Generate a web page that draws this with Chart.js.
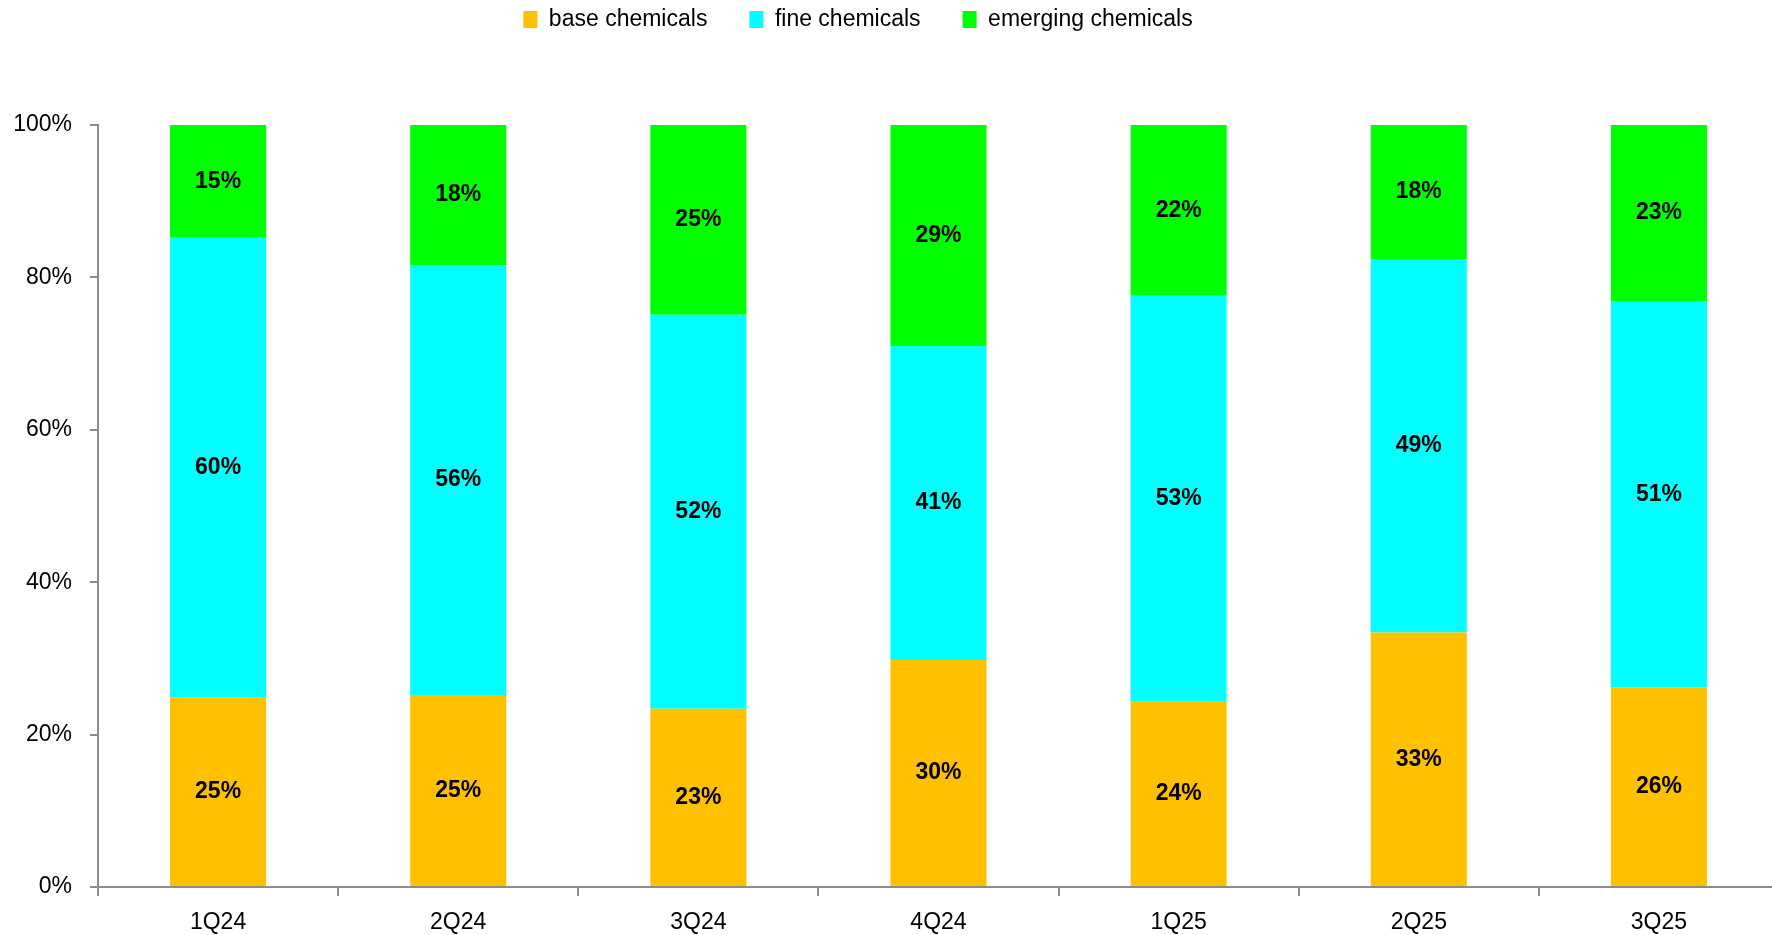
<!DOCTYPE html>
<html>
<head>
<meta charset="utf-8">
<title>Chemicals mix by quarter</title>
<script src="https://cdn.jsdelivr.net/npm/chart.js@4.4.1/dist/chart.umd.min.js"></script>
<style>
    html, body { margin: 0; padding: 0; background: #ffffff; overflow: hidden; }
    #wrap { width: 1772px; height: 935px; overflow: hidden; }
    canvas { display: block; }
</style>
</head>
<body>
<div id="wrap"><canvas id="mixChart" width="1779" height="935"></canvas></div>
<script>
// Data (share of total, %)
const quarters = ['1Q24', '2Q24', '3Q24', '4Q24', '1Q25', '2Q25', '3Q25'];
const baseShare = [24.9, 25.2, 23.4, 29.8, 24.3, 33.4, 26.2];
const fineShare = [60.3, 56.4, 51.7, 41.2, 53.3, 49.0, 50.7];
const emergingShare = [14.8, 18.4, 24.9, 29.0, 22.4, 17.6, 23.1];
const yTickStep = 20;
const yMax = 100;

const FONT = "'Liberation Sans', Arial, sans-serif";
const AXIS_GREY = '#8c8c8c';

// Percent labels centred inside each stacked segment
const segmentLabels = {
    id: 'segmentLabels',
    afterDatasetsDraw(chart) {
        const ctx = chart.ctx;
        ctx.save();
        ctx.font = "bold 23px " + FONT;
        ctx.fillStyle = '#000000';
        ctx.textAlign = 'center';
        ctx.textBaseline = 'middle';
        chart.data.datasets.forEach((ds, di) => {
            const meta = chart.getDatasetMeta(di);
            meta.data.forEach((bar, i) => {
                const v = ds.data[i];
                ctx.fillText(Math.round(v) + '%', bar.x, (bar.y + bar.base) / 2);
            });
        });
        ctx.restore();
    }
};

// The legend sits a bit left of centre and close to the top edge
const legendNudge = {
    id: 'legendNudge',
    afterLayout(chart) {
        const lg = chart.legend;
        if (!lg) return;
        lg.left -= 38;
        lg.right -= 38;
        lg.top -= 84;
        lg.bottom -= 84;
    }
};

new Chart(document.getElementById('mixChart'), {
    type: 'bar',
    data: {
        labels: quarters,
        datasets: [
            { label: 'base chemicals', data: baseShare, backgroundColor: '#FFC000' },
            { label: 'fine chemicals', data: fineShare, backgroundColor: '#00FFFF' },
            { label: 'emerging chemicals', data: emergingShare, backgroundColor: '#00FF00' }
        ]
    },
    options: {
        responsive: false,
        devicePixelRatio: 1,
        animation: false,
        layout: {
            padding: { left: 13, top: 50, right: 0, bottom: 0 }
        },
        datasets: {
            bar: {
                barPercentage: 0.4,
                categoryPercentage: 1.0,
                borderWidth: 0
            }
        },
        plugins: {
            tooltip: { enabled: false },
            legend: {
                position: 'top',
                labels: {
                    boxWidth: 14,
                    boxHeight: 17,
                    padding: 42,
                    color: '#000000',
                    font: { family: FONT, size: 23 }
                }
            }
        },
        scales: {
            x: {
                stacked: true,
                afterFit: (scale) => { scale.height = 48; },
                border: { display: true, color: AXIS_GREY, width: 2 },
                grid: {
                    offset: true,
                    drawOnChartArea: false,
                    drawTicks: true,
                    tickLength: 9,
                    tickColor: AXIS_GREY,
                    lineWidth: 2
                },
                ticks: {
                    color: '#000000',
                    padding: 13,
                    font: { family: FONT, size: 23 }
                }
            },
            y: {
                stacked: true,
                min: 0,
                max: yMax,
                afterFit: (scale) => { scale.width = 85; },
                border: { display: true, color: AXIS_GREY, width: 2 },
                grid: {
                    drawOnChartArea: false,
                    drawTicks: true,
                    tickLength: 8,
                    tickColor: AXIS_GREY,
                    lineWidth: 2
                },
                ticks: {
                    stepSize: yTickStep,
                    color: '#000000',
                    padding: 18,
                    font: { family: FONT, size: 23 },
                    callback: (v) => v + '%'
                }
            }
        }
    },
    plugins: [segmentLabels, legendNudge]
});
</script>
</body>
</html>
